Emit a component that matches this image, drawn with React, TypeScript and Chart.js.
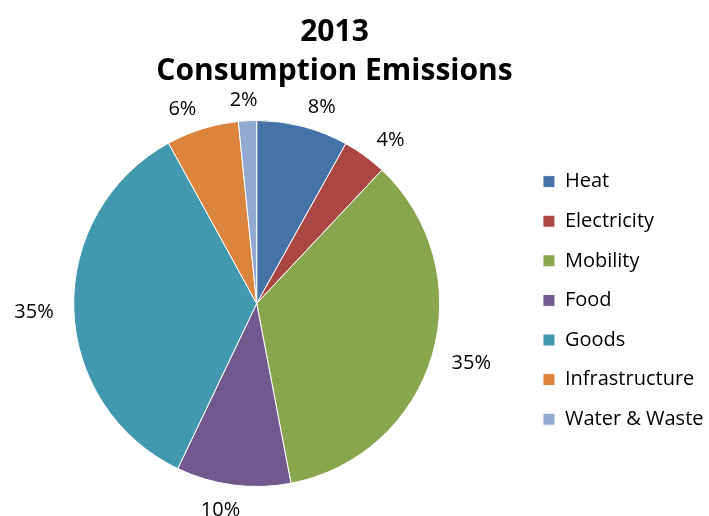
import React, { useEffect, useRef } from "react";
import { Chart, registerables } from "chart.js";

Chart.register(...registerables);

const titleLines = ["2013", "Consumption Emissions"];
const categories = [
  "Heat",
  "Electricity",
  "Mobility",
  "Food",
  "Goods",
  "Infrastructure",
  "Water & Waste",
];
const values = [8.1, 3.9, 35.0, 10.1, 34.9, 6.4, 1.6];
const colors = [
  "#4572A7",
  "#AA4643",
  "#89A54E",
  "#71588F",
  "#4198AF",
  "#DB843D",
  "#93A9CF",
];

const SHIFT = 10;

export default function App() {
  const ref = useRef<HTMLCanvasElement>(null);

  useEffect(() => {
    if (!ref.current) return;
    document.body.style.margin = "0";
    const total = values.reduce((a, b) => a + b, 0);

    const titlePlugin = {
      id: "customTitle",
      afterDraw(chart: any) {
        const ctx = chart.ctx;
        ctx.save();
        ctx.fillStyle = "#000";
        ctx.font = 'bold 30px "Open Sans"';
        ctx.textAlign = "center";
        ctx.textBaseline = "alphabetic";
        ctx.fillText(titleLines[0], 334.5 + SHIFT, 41);
        ctx.fillText(titleLines[1], 334.5 + SHIFT, 80);
        ctx.restore();
      },
    };

    const labelPlugin = {
      id: "sliceLabels",
      afterDatasetsDraw(chart: any) {
        const ctx = chart.ctx;
        const meta = chart.getDatasetMeta(0);
        ctx.save();
        ctx.fillStyle = "#000";
        ctx.font = '20px "Open Sans"';
        ctx.textAlign = "center";
        ctx.textBaseline = "middle";
        meta.data.forEach((arc: any, i: number) => {
          const p = arc.getProps(
            ["x", "y", "startAngle", "endAngle", "outerRadius"],
            true
          );
          const mid = (p.startAngle + p.endAngle) / 2;
          const ux = Math.cos(mid);
          const uy = Math.sin(mid);
          const text = Math.round((values[i] / total) * 100) + "%";
          const w = ctx.measureText(text).width;
          const h = 14;
          const r = p.outerRadius + 20;
          const kx = Math.max(-1, Math.min(1, ux * 4));
          const ky = uy * 0.4;
          const cx = p.x + ux * r + (kx * w) / 2;
          const cy = p.y + uy * r + (ky * h) / 2 + 2.5;
          ctx.fillText(text, cx, cy);
        });
        ctx.restore();
      },
    };

    const chart = new Chart(ref.current, {
      type: "pie",
      data: {
        labels: categories,
        datasets: [
          {
            data: values,
            backgroundColor: colors,
            borderColor: "#ffffff",
            borderWidth: 1,
            radius: 183,
          } as any,
        ],
      },
      options: {
        responsive: false,
        animation: false,
        devicePixelRatio: 1,
        layout: {
          padding: { left: 0, right: -4.5, top: 152, bottom: 61 },
        },
        plugins: {
          title: { display: false },
          tooltip: { enabled: false },
          legend: {
            display: true,
            position: "right",
            align: "start",
            labels: {
              boxWidth: 12,
              boxHeight: 12,
              padding: 19.6,
              color: "#000",
              font: { family: '"Open Sans"', size: 20 },
            },
          },
        },
      },
      plugins: [titlePlugin, labelPlugin],
    });

    return () => chart.destroy();
  }, []);

  return (
    <div
      style={{
        position: "absolute",
        left: 0,
        top: 0,
        width: 709,
        height: 516,
        overflow: "hidden",
      }}
    >
      <canvas
        ref={ref}
        width={709 + SHIFT}
        height={516}
        style={{ position: "absolute", left: -SHIFT, top: 0 }}
      />
    </div>
  );
}
